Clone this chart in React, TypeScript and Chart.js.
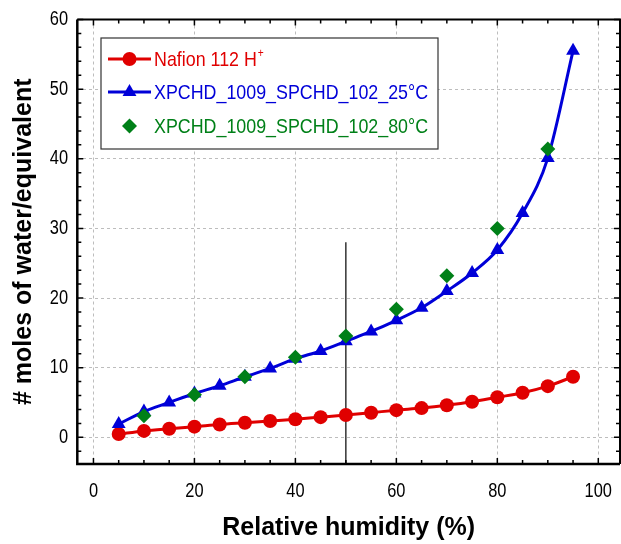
import React, { useEffect, useRef } from "react";
import { Chart, registerables } from "chart.js";

Chart.register(...registerables);

const rh = [5, 10, 15, 20, 25, 30, 35, 40, 45, 50, 55, 60, 65, 70, 75, 80, 85, 90, 95];
const nafion = [0.47, 0.92, 1.24, 1.53, 1.85, 2.1, 2.35, 2.6, 2.9, 3.2, 3.54, 3.9, 4.2, 4.6, 5.1, 5.75, 6.4, 7.35, 8.7];
const xpchd25 = [1.9, 3.7, 5.0, 6.3, 7.4, 8.7, 9.9, 11.3, 12.4, 13.8, 15.2, 16.8, 18.6, 21.0, 23.6, 26.9, 32.2, 40.1, 55.5];
const rh80 = [10, 20, 30, 40, 50, 60, 70, 80, 90];
const xpchd80 = [3.1, 6.1, 8.7, 11.5, 14.55, 18.4, 23.2, 30.0, 41.4];
const markerX = [50, 50];
const markerY = [28, -3.8];

const xTicks = [0, 20, 40, 60, 80, 100];
const yTicks = [0, 10, 20, 30, 40, 50, 60];
const xMinor = [0, 5, 10, 15, 20, 25, 30, 35, 40, 45, 50, 55, 60, 65, 70, 75, 80, 85, 90, 95, 100];
const yMinor = [-2, 0, 2, 4, 6, 8, 10, 12, 14, 16, 18, 20, 22, 24, 26, 28, 30, 32, 34, 36, 38, 40, 42, 44, 46, 48, 50, 52, 54, 56, 58, 60];

const labels = ["Nafion 112 H", "XPCHD_1009_SPCHD_102_25°C", "XPCHD_1009_SPCHD_102_80°C"];

const RED = "#e00000";
const BLUE = "#0000d8";
const GREEN = "#008018";
const SANS = "'Liberation Sans', Arial, sans-serif";

function narrowText(ctx: any, text: string, x: number, y: number, size: number, align: string, color: string, sx: number) {
  ctx.save();
  ctx.translate(x, y);
  ctx.scale(sx, 1);
  ctx.font = `${size}px ${SANS}`;
  ctx.textAlign = align;
  ctx.textBaseline = "middle";
  ctx.fillStyle = color;
  ctx.fillText(text, 0, 0);
  const w = ctx.measureText(text).width * sx;
  ctx.restore();
  return w;
}

function drawPoint(ctx: any, style: string, r: number, x: number, y: number) {
  ctx.beginPath();
  if (style === "circle") {
    ctx.arc(x, y, r, 0, Math.PI * 2);
  } else if (style === "triangle") {
    ctx.moveTo(x, y - r);
    ctx.lineTo(x + r * Math.sin((2 * Math.PI) / 3), y - r * Math.cos((2 * Math.PI) / 3));
    ctx.lineTo(x + r * Math.sin((4 * Math.PI) / 3), y - r * Math.cos((4 * Math.PI) / 3));
    ctx.closePath();
  } else {
    ctx.moveTo(x, y - r);
    ctx.lineTo(x + r, y);
    ctx.lineTo(x, y + r);
    ctx.lineTo(x - r, y);
    ctx.closePath();
  }
  ctx.fill();
}

const framePlugin = {
  id: "frame",
  afterDraw(chart: any) {
    const ctx = chart.ctx;
    const { left, right, top, bottom } = chart.chartArea;
    const xs = chart.scales.x;
    const ys = chart.scales.y;
    ctx.save();
    ctx.strokeStyle = "#000";
    ctx.lineWidth = 1.5;
    ctx.beginPath();
    xMinor.forEach((v) => {
      const px = xs.getPixelForValue(v);
      const len = v % 20 === 0 ? 6 : 4;
      ctx.moveTo(px, bottom);
      ctx.lineTo(px, bottom - len);
      ctx.moveTo(px, top);
      ctx.lineTo(px, top + len);
    });
    yMinor.forEach((v) => {
      const py = ys.getPixelForValue(v);
      const len = v % 10 === 0 ? 6 : 4;
      ctx.moveTo(left, py);
      ctx.lineTo(left + len, py);
      ctx.moveTo(right, py);
      ctx.lineTo(right - len, py);
    });
    ctx.stroke();
    ctx.lineWidth = 2.5;
    ctx.beginPath();
    ctx.moveTo(left, top);
    ctx.lineTo(left, bottom);
    ctx.lineTo(right, bottom);
    ctx.stroke();
    ctx.lineWidth = 2;
    ctx.beginPath();
    ctx.moveTo(left, top);
    ctx.lineTo(right, top);
    ctx.lineTo(right, bottom);
    ctx.stroke();

    // tick labels
    xTicks.forEach((v) => {
      narrowText(ctx, String(v), xs.getPixelForValue(v), 491, 20, "center", "#000", 0.82);
    });
    yTicks.forEach((v) => {
      narrowText(ctx, String(v), 68, ys.getPixelForValue(v), 20, "right", "#000", 0.82);
    });

    // legend
    const bx = 101, by = 38, bw = 337, bh = 111;
    ctx.fillStyle = "#fff";
    ctx.fillRect(bx, by, bw, bh);
    ctx.lineWidth = 1.2;
    ctx.strokeStyle = "#333";
    ctx.strokeRect(bx, by, bw, bh);
    const rows = [59, 92, 126];
    const dsets = chart.data.datasets;
    for (let i = 0; i < 3; i++) {
      const ds = dsets[i];
      const y = rows[i];
      if (ds.showLine !== false) {
        ctx.strokeStyle = ds.borderColor;
        ctx.lineWidth = 3;
        ctx.beginPath();
        ctx.moveTo(108, y);
        ctx.lineTo(151, y);
        ctx.stroke();
      }
      ctx.fillStyle = ds.pointBackgroundColor;
      drawPoint(ctx, ds.pointStyle, ds.pointRadius, 129.5, y);
      const w = narrowText(ctx, ds.label, 154, y + 1, 21, "left", ds.pointBackgroundColor, 0.85);
      if (i === 0) {
        narrowText(ctx, "+", 154 + w + 1, y - 5, 12, "left", ds.pointBackgroundColor, 0.85);
      }
    }
    ctx.restore();
  },
};

export default function App() {
  const ref = useRef<HTMLCanvasElement>(null);
  useEffect(() => {
    if (!ref.current) return;
    const chart = new Chart(ref.current, {
      type: "scatter",
      data: {
        datasets: [
          {
            label: labels[0],
            data: rh.map((x, i) => ({ x, y: nafion[i] })),
            showLine: true,
            borderColor: RED,
            backgroundColor: RED,
            pointBackgroundColor: RED,
            pointBorderColor: RED,
            borderWidth: 3,
            pointStyle: "circle",
            pointRadius: 7,
            pointBorderWidth: 0,
            cubicInterpolationMode: "monotone",
            order: 2,
          },
          {
            label: labels[1],
            data: rh.map((x, i) => ({ x, y: xpchd25[i] })),
            showLine: true,
            borderColor: BLUE,
            backgroundColor: BLUE,
            pointBackgroundColor: BLUE,
            pointBorderColor: BLUE,
            borderWidth: 3,
            pointStyle: "triangle",
            pointRadius: 8,
            pointBorderWidth: 0,
            cubicInterpolationMode: "monotone",
            order: 1,
          },
          {
            label: labels[2],
            data: rh80.map((x, i) => ({ x, y: xpchd80[i] })),
            showLine: false,
            borderColor: GREEN,
            backgroundColor: GREEN,
            pointBackgroundColor: GREEN,
            pointBorderColor: GREEN,
            pointStyle: "rectRot",
            pointRadius: 7.5,
            pointBorderWidth: 0,
            order: 0,
          },
          {
            label: "marker",
            data: markerX.map((x, i) => ({ x, y: markerY[i] })),
            showLine: true,
            borderColor: "#000",
            borderWidth: 1.2,
            pointRadius: 0,
            order: 3,
          },
        ],
      },
      options: {
        animation: false,
        responsive: false,
        maintainAspectRatio: false,
        layout: { autoPadding: false, padding: { top: 19.5, right: 1, left: 0, bottom: 0 } },
        plugins: { legend: { display: false }, tooltip: { enabled: false } },
        scales: {
          x: {
            type: "linear",
            min: -3.2,
            max: 104.3,
            afterFit: (s: any) => {
              s.height = 80;
            },
            afterBuildTicks: (s: any) => {
              s.ticks = xTicks.map((v) => ({ value: v }));
            },
            grid: { color: "#bdbdbd", lineWidth: 1, drawTicks: false },
            border: { display: false, dash: [3, 3] },
            ticks: { display: false },
            title: {
              display: true,
              text: "Relative humidity (%)",
              color: "#000",
              font: { family: SANS, size: 25, weight: "bold" },
              padding: { top: 0, bottom: 1 },
            },
          },
          y: {
            type: "linear",
            min: -3.83,
            max: 60,
            afterFit: (s: any) => {
              s.width = 77.3;
            },
            afterBuildTicks: (s: any) => {
              s.ticks = yTicks.map((v) => ({ value: v }));
            },
            grid: { color: "#bdbdbd", lineWidth: 1, drawTicks: false },
            border: { display: false, dash: [3, 3] },
            ticks: { display: false },
            title: {
              display: true,
              text: "# moles of water/equivalent",
              color: "#000",
              font: { family: SANS, size: 25, weight: "bold" },
              padding: { top: 9, bottom: 0 },
            },
          },
        },
      },
      plugins: [framePlugin],
    } as any);
    return () => chart.destroy();
  }, []);
  return (
    <div style={{ position: "absolute", left: 0, top: 0, width: 621, height: 544 }}>
      <canvas ref={ref} width={621} height={544} style={{ width: 621, height: 544, display: "block" }} />
    </div>
  );
}
